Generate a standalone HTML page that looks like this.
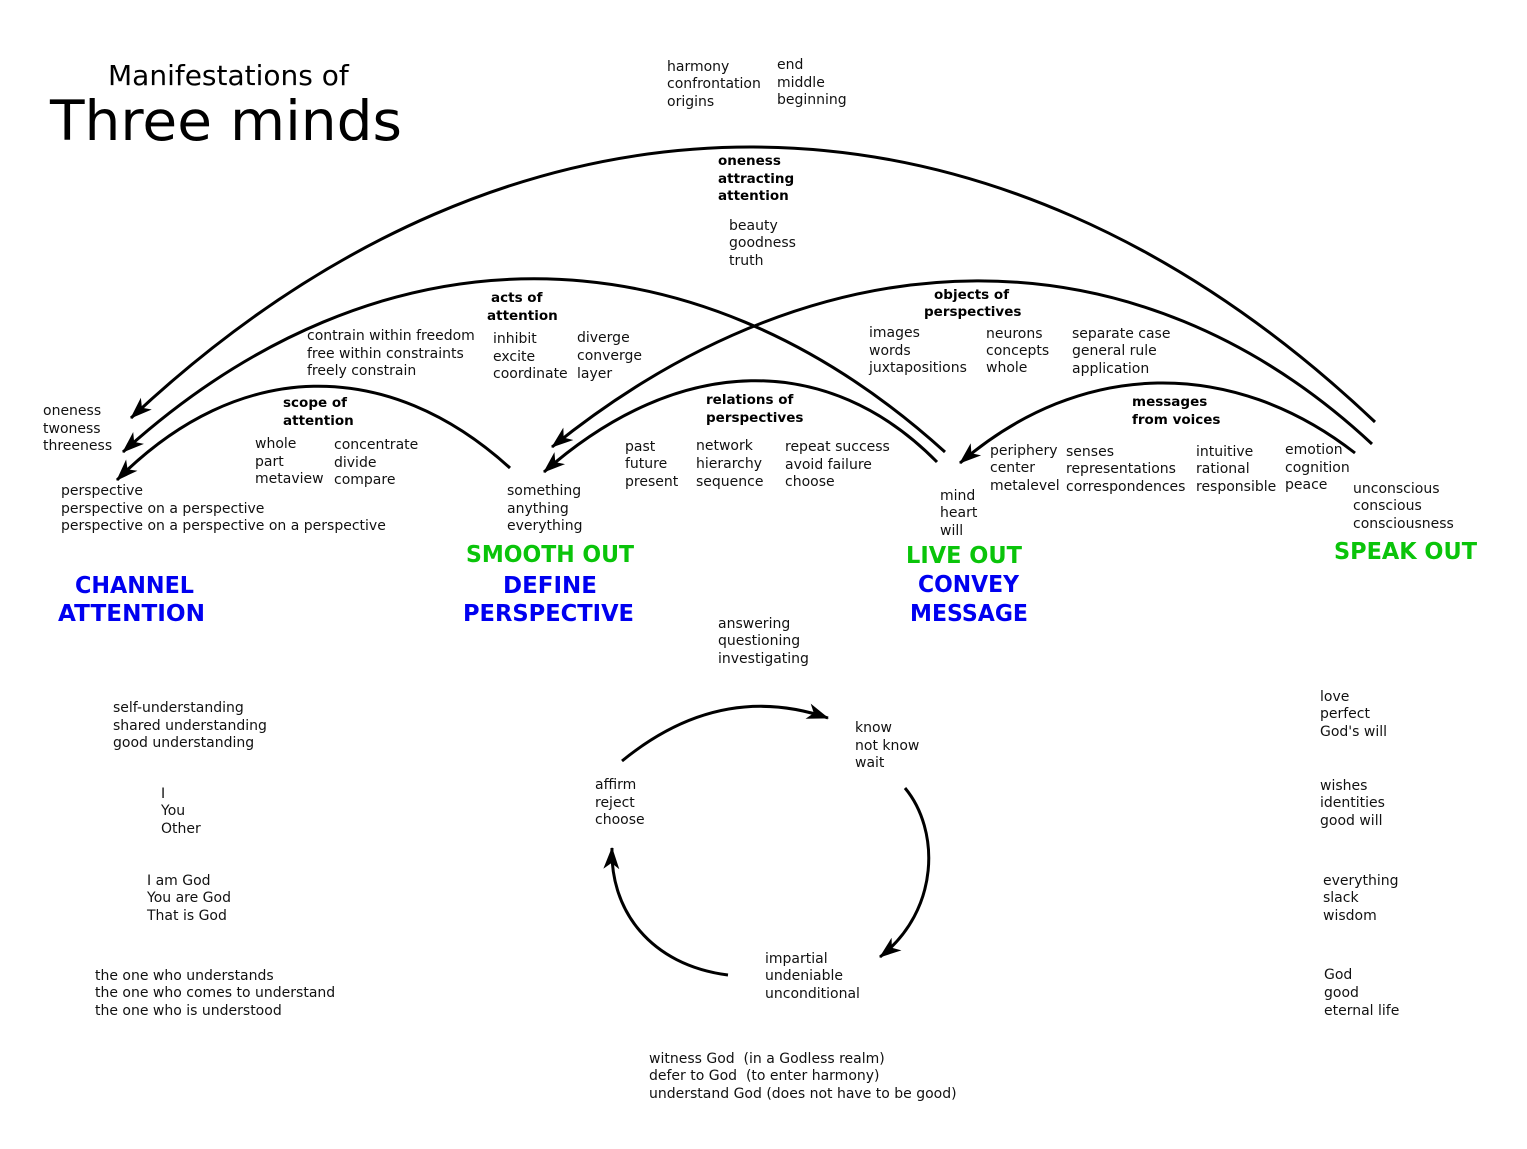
<!DOCTYPE html>
<html>
<head>
<meta charset="utf-8">
<style>
  html,body{margin:0;padding:0;background:#fff;}
  svg{display:block;}
  text{font-family:"DejaVu Sans","Liberation Sans",sans-serif;fill:#111;}
  .r{font-size:14px;}
  .b{font-size:13.5px;font-weight:bold;fill:#000;}
  .g{font-size:23px;font-weight:bold;fill:#0ac40a;}
  .u{font-size:23px;font-weight:bold;fill:#0000f0;}
  .pre{white-space:pre;}
</style>
</head>
<body>
<svg width="1527" height="1149" viewBox="0 0 1527 1149" xmlns="http://www.w3.org/2000/svg">
  <defs>
    <marker id="ah" markerUnits="userSpaceOnUse" viewBox="0 0 22 18" markerWidth="22" markerHeight="18" refX="21" refY="9" orient="auto">
      <path d="M22,9 L0,1 L6,9 L0,17 Z" fill="#000"/>
    </marker>
  </defs>
  <rect width="1527" height="1149" fill="#fff"/>

  <!-- Title -->
  <text x="108" y="85" style="font-size:28px;fill:#000">Manifestations of</text>
  <text x="50" y="140" style="font-size:55px;fill:#000" textLength="352" lengthAdjust="spacingAndGlyphs">Three minds</text>

  <!-- top text -->
  <text class="r" x="667" y="71">harmony</text>
  <text class="r" x="667" y="88">confrontation</text>
  <text class="r" x="667" y="106">origins</text>
  <text class="r" x="777" y="69">end</text>
  <text class="r" x="777" y="87">middle</text>
  <text class="r" x="777" y="104">beginning</text>

  <!-- arcs -->
  <g fill="none" stroke="#000" stroke-width="3">
    <path d="M1375,422 C989,56 517,56 131,418" marker-end="url(#ah)"/>
    <path d="M945,452 C690,221 378,221 123,452" marker-end="url(#ah)"/>
    <path d="M1372,444 C1138,226 826,226 552,447" marker-end="url(#ah)"/>
    <path d="M510,468 C388,357 239,357 117,480" marker-end="url(#ah)"/>
    <path d="M937,462 C829,352 680,352 544,472" marker-end="url(#ah)"/>
    <path d="M1355,453 C1233,358 1082,358 960,463" marker-end="url(#ah)"/>
    <!-- cycle -->
    <path d="M622,761 Q720,681 828,718" marker-end="url(#ah)"/>
    <path d="M905,788 C940,830 940,910 880,957" marker-end="url(#ah)"/>
    <path d="M728,975 C650,965 610,910 612,848" marker-end="url(#ah)"/>
  </g>

  <!-- oneness attracting attention -->
  <text class="b" x="718" y="165">oneness</text>
  <text class="b" x="718" y="183">attracting</text>
  <text class="b" x="718" y="200">attention</text>
  <text class="r" x="729" y="230">beauty</text>
  <text class="r" x="729" y="247">goodness</text>
  <text class="r" x="729" y="265">truth</text>

  <!-- acts of attention -->
  <text class="b" x="491" y="302">acts of</text>
  <text class="b" x="487" y="320">attention</text>
  <text class="r" x="307" y="340">contrain within freedom</text>
  <text class="r" x="307" y="358">free within constraints</text>
  <text class="r" x="307" y="375">freely constrain</text>
  <text class="r" x="493" y="343">inhibit</text>
  <text class="r" x="493" y="361">excite</text>
  <text class="r" x="493" y="378">coordinate</text>
  <text class="r" x="577" y="342">diverge</text>
  <text class="r" x="577" y="360">converge</text>
  <text class="r" x="577" y="378">layer</text>

  <!-- objects of perspectives -->
  <text class="b" x="934" y="299">objects of</text>
  <text class="b" x="924" y="316">perspectives</text>
  <text class="r" x="869" y="337">images</text>
  <text class="r" x="869" y="355">words</text>
  <text class="r" x="869" y="372">juxtapositions</text>
  <text class="r" x="986" y="338">neurons</text>
  <text class="r" x="986" y="355">concepts</text>
  <text class="r" x="986" y="372">whole</text>
  <text class="r" x="1072" y="338">separate case</text>
  <text class="r" x="1072" y="355">general rule</text>
  <text class="r" x="1072" y="373">application</text>

  <!-- left oneness -->
  <text class="r" x="43" y="415">oneness</text>
  <text class="r" x="43" y="433">twoness</text>
  <text class="r" x="43" y="450">threeness</text>

  <!-- scope of attention -->
  <text class="b" x="283" y="407">scope of</text>
  <text class="b" x="283" y="425">attention</text>
  <text class="r" x="255" y="448">whole</text>
  <text class="r" x="255" y="466">part</text>
  <text class="r" x="255" y="483">metaview</text>
  <text class="r" x="334" y="449">concentrate</text>
  <text class="r" x="334" y="467">divide</text>
  <text class="r" x="334" y="484">compare</text>
  <text class="r" x="61" y="495">perspective</text>
  <text class="r" x="61" y="513">perspective on a perspective</text>
  <text class="r" x="61" y="530">perspective on a perspective on a perspective</text>

  <!-- relations of perspectives -->
  <text class="b" x="706" y="404">relations of</text>
  <text class="b" x="706" y="422">perspectives</text>
  <text class="r" x="625" y="451">past</text>
  <text class="r" x="625" y="468">future</text>
  <text class="r" x="625" y="486">present</text>
  <text class="r" x="696" y="450">network</text>
  <text class="r" x="696" y="468">hierarchy</text>
  <text class="r" x="696" y="486">sequence</text>
  <text class="r" x="785" y="451">repeat success</text>
  <text class="r" x="785" y="469">avoid failure</text>
  <text class="r" x="785" y="486">choose</text>
  <text class="r" x="507" y="495">something</text>
  <text class="r" x="507" y="513">anything</text>
  <text class="r" x="507" y="530">everything</text>

  <!-- messages from voices -->
  <text class="b" x="1132" y="406">messages</text>
  <text class="b" x="1132" y="424">from voices</text>
  <text class="r" x="990" y="455">periphery</text>
  <text class="r" x="990" y="472">center</text>
  <text class="r" x="990" y="490">metalevel</text>
  <text class="r" x="1066" y="456">senses</text>
  <text class="r" x="1066" y="473">representations</text>
  <text class="r" x="1066" y="491">correspondences</text>
  <text class="r" x="1196" y="456">intuitive</text>
  <text class="r" x="1196" y="473">rational</text>
  <text class="r" x="1196" y="491">responsible</text>
  <text class="r" x="1285" y="454">emotion</text>
  <text class="r" x="1285" y="472">cognition</text>
  <text class="r" x="1285" y="489">peace</text>
  <text class="r" x="940" y="500">mind</text>
  <text class="r" x="940" y="517">heart</text>
  <text class="r" x="940" y="535">will</text>
  <text class="r" x="1353" y="493">unconscious</text>
  <text class="r" x="1353" y="510">conscious</text>
  <text class="r" x="1353" y="528">consciousness</text>

  <!-- colored headings -->
  <text class="g" x="466" y="562" textLength="168" lengthAdjust="spacingAndGlyphs">SMOOTH OUT</text>
  <text class="u" x="503" y="593" textLength="94" lengthAdjust="spacingAndGlyphs">DEFINE</text>
  <text class="u" x="463" y="621" textLength="171" lengthAdjust="spacingAndGlyphs">PERSPECTIVE</text>
  <text class="u" x="75" y="593" textLength="119" lengthAdjust="spacingAndGlyphs">CHANNEL</text>
  <text class="u" x="58" y="621" textLength="147" lengthAdjust="spacingAndGlyphs">ATTENTION</text>
  <text class="g" x="906" y="563" textLength="116" lengthAdjust="spacingAndGlyphs">LIVE OUT</text>
  <text class="u" x="918" y="592" textLength="101" lengthAdjust="spacingAndGlyphs">CONVEY</text>
  <text class="u" x="910" y="621" textLength="118" lengthAdjust="spacingAndGlyphs">MESSAGE</text>
  <text class="g" x="1334" y="559" textLength="143" lengthAdjust="spacingAndGlyphs">SPEAK OUT</text>

  <text class="r" x="718" y="628">answering</text>
  <text class="r" x="718" y="645">questioning</text>
  <text class="r" x="718" y="663">investigating</text>

  <!-- left column -->
  <text class="r" x="113" y="712">self-understanding</text>
  <text class="r" x="113" y="730">shared understanding</text>
  <text class="r" x="113" y="747">good understanding</text>
  <text class="r" x="161" y="798">I</text>
  <text class="r" x="161" y="815">You</text>
  <text class="r" x="161" y="833">Other</text>
  <text class="r" x="147" y="885">I am God</text>
  <text class="r" x="147" y="902">You are God</text>
  <text class="r" x="147" y="920">That is God</text>
  <text class="r" x="95" y="980">the one who understands</text>
  <text class="r" x="95" y="997">the one who comes to understand</text>
  <text class="r" x="95" y="1015">the one who is understood</text>

  <!-- cycle text -->
  <text class="r" x="855" y="732">know</text>
  <text class="r" x="855" y="750">not know</text>
  <text class="r" x="855" y="767">wait</text>
  <text class="r" x="595" y="789">affirm</text>
  <text class="r" x="595" y="807">reject</text>
  <text class="r" x="595" y="824">choose</text>
  <text class="r" x="765" y="963">impartial</text>
  <text class="r" x="765" y="980">undeniable</text>
  <text class="r" x="765" y="998">unconditional</text>

  <!-- right column -->
  <text class="r" x="1320" y="701">love</text>
  <text class="r" x="1320" y="718">perfect</text>
  <text class="r" x="1320" y="736">God's will</text>
  <text class="r" x="1320" y="790">wishes</text>
  <text class="r" x="1320" y="807">identities</text>
  <text class="r" x="1320" y="825">good will</text>
  <text class="r" x="1323" y="885">everything</text>
  <text class="r" x="1323" y="902">slack</text>
  <text class="r" x="1323" y="920">wisdom</text>
  <text class="r" x="1324" y="979">God</text>
  <text class="r" x="1324" y="997">good</text>
  <text class="r" x="1324" y="1015">eternal life</text>

  <!-- bottom -->
  <text class="r pre" x="649" y="1063">witness God  (in a Godless realm)</text>
  <text class="r pre" x="649" y="1080">defer to God  (to enter harmony)</text>
  <text class="r pre" x="649" y="1098">understand God (does not have to be good)</text>
</svg>
</body>
</html>
